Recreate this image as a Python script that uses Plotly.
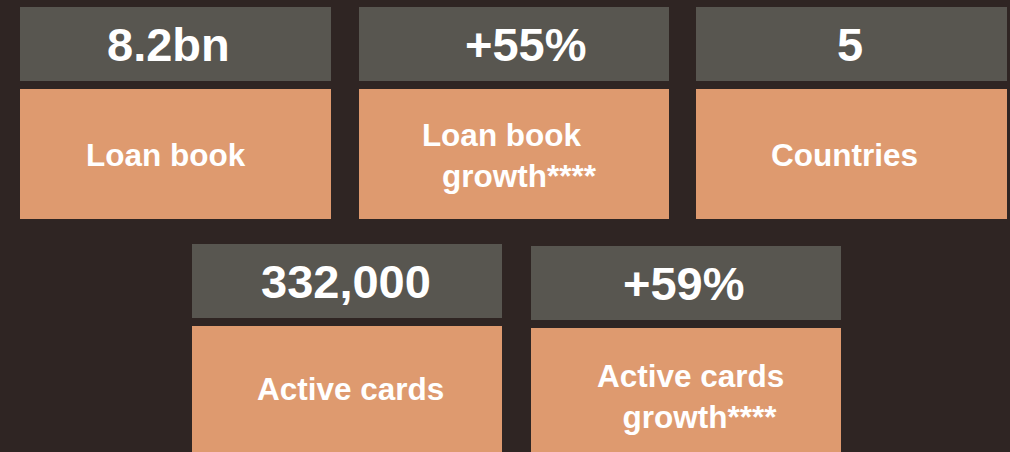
import plotly.graph_objects as go

# Tile color scheme
HEADER_GREY = "#585650"
TILE_ORANGE = "#DE9A6F"
BACKGROUND = "#2F2523"
FONT_FAMILY = "Liberation Sans, Arial, sans-serif"
NBSP = "&nbsp;"

# KPI tiles: value, label, left/right edge, header top/bottom, label block top/bottom,
# value centre x, label centre x/y
TILES = [
    {"value": "8.2bn", "label": "Loan book", "x0": 20, "x1": 331, "y0": 7, "y1": 81, "y2": 89, "y3": 219,
     "tx": 168, "lx": 166, "ly": 155},
    {"value": "+55%", "label": "Loan book<br>" + NBSP * 4 + "growth****", "x0": 359, "x1": 669, "y0": 7, "y1": 81,
     "y2": 89, "y3": 219, "tx": 526, "lx": 502, "ly": 155},
    {"value": "5", "label": "Countries", "x0": 696, "x1": 1007, "y0": 7, "y1": 81, "y2": 89, "y3": 219,
     "tx": 850, "lx": 844, "ly": 155},
    {"value": "332,000", "label": "Active cards", "x0": 192, "x1": 502, "y0": 244, "y1": 318, "y2": 326, "y3": 456,
     "tx": 346, "lx": 350, "ly": 389},
    {"value": "+59%", "label": "Active cards<br>" + NBSP * 2 + "growth****", "x0": 531, "x1": 841, "y0": 246,
     "y1": 320, "y2": 328, "y3": 456, "tx": 684, "lx": 690, "ly": 396},
]


def add_tile(fig, tile):
    """
    Draws one KPI tile: grey value header above an orange label block.
    """
    fig.add_shape(type="rect", x0=tile["x0"], x1=tile["x1"], y0=tile["y0"], y1=tile["y1"],
                  fillcolor=HEADER_GREY, line_width=0, layer="below")
    fig.add_shape(type="rect", x0=tile["x0"], x1=tile["x1"], y0=tile["y2"], y1=tile["y3"],
                  fillcolor=TILE_ORANGE, line_width=0, layer="below")
    fig.add_annotation(x=tile["tx"], y=(tile["y0"] + tile["y1"]) / 2, text="<b>%s</b>" % tile["value"],
                       showarrow=False, font=dict(family=FONT_FAMILY, size=47, color="#ffffff"))
    fig.add_annotation(x=tile["lx"], y=tile["ly"], text="<b>%s</b>" % tile["label"],
                       showarrow=False, font=dict(family=FONT_FAMILY, size=31.5, color="#ffffff"))
    return fig


fig = go.Figure()
for tile in TILES:
    add_tile(fig, tile)

fig.update_layout(
    width=1010,
    height=452,
    paper_bgcolor=BACKGROUND,
    plot_bgcolor=BACKGROUND,
    margin=dict(l=0, r=0, t=0, b=0),
    showlegend=False,
)
fig.update_xaxes(range=[0, 1010], visible=False, fixedrange=True)
fig.update_yaxes(range=[452, 0], visible=False, fixedrange=True)

fig.write_html("out.html", config={"displayModeBar": False},
               post_script="document.body.style.margin='0';document.body.style.background='%s';" % BACKGROUND)
